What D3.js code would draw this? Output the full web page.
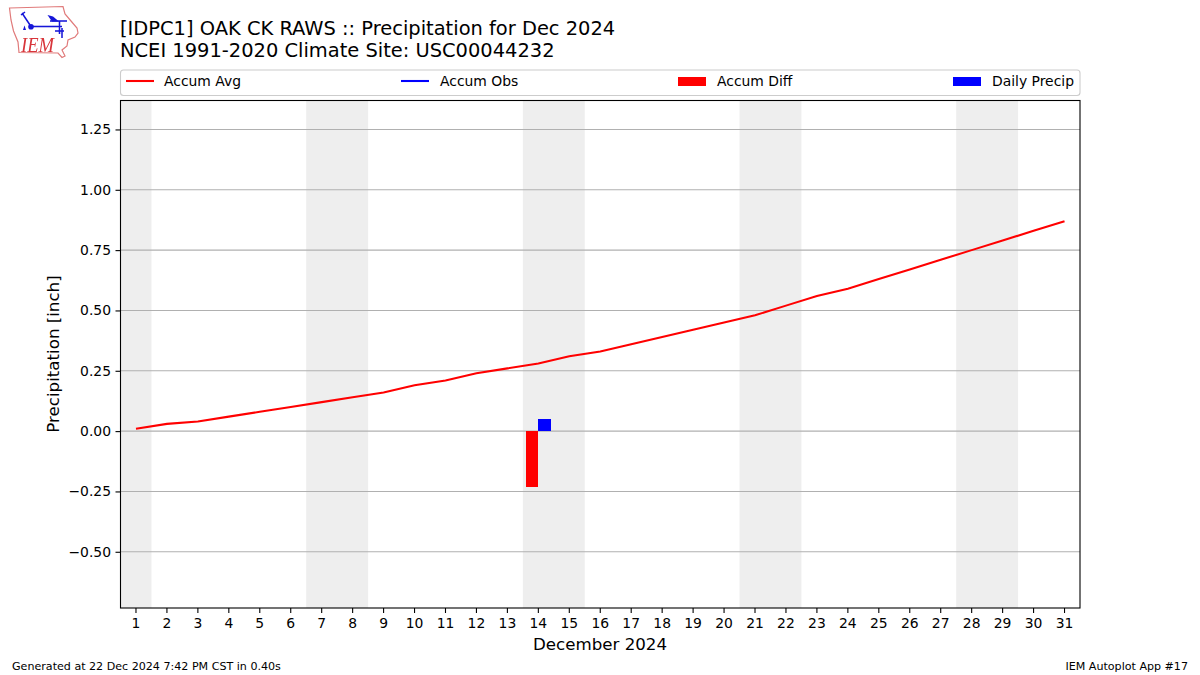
<!DOCTYPE html>
<html>
<head>
<meta charset="utf-8">
<script src="https://cdnjs.cloudflare.com/ajax/libs/d3/7.8.5/d3.min.js"></script>
<style>
  html, body { margin: 0; padding: 0; background: #fff; }
  svg { display: block; }
  text { font-family: "DejaVu Sans", sans-serif; fill: #000; }
</style>
</head>
<body>
<div id="chart"></div>
<script>
// values
var days = d3.range(1, 32);
var accumAvg = [0.01, 0.03, 0.04, 0.06, 0.08, 0.10, 0.12, 0.14, 0.16, 0.19, 0.21,
                0.24, 0.26, 0.28, 0.31, 0.33, 0.36, 0.39, 0.42, 0.45, 0.48, 0.52,
                0.56, 0.59, 0.63, 0.67, 0.71, 0.75, 0.79, 0.83, 0.87];
var obsDays = [14];
var accumObs = [0.05];
var accumDiff = [-0.23];
var dailyPrecip = [0.05];
var weekends = [[0.5, 1.5], [6.5, 8.5], [13.5, 15.5], [20.5, 22.5], [27.5, 29.5]];
var yTicks = [-0.5, -0.25, 0, 0.25, 0.5, 0.75, 1, 1.25];
var legendItems = ["Accum Avg", "Accum Obs", "Accum Diff", "Daily Precip"];
var legendColors = ["#ff0000", "#0000ff", "#ff0000", "#0000ff"];
var legendKinds = ["line", "line", "bar", "bar"];
var legendX = [126, 401, 678, 953];

var width = 1200, height = 675;
var m = { left: 120.5, right: 1080, top: 100.5, bottom: 608 };

var svg = d3.select("#chart").append("svg")
    .attr("width", width)
    .attr("height", height);

var x = d3.scaleLinear().domain([0.5, 31.5]).range([m.left, m.right]);
var y = d3.scaleLinear().domain([-0.733, 1.37]).range([m.bottom, m.top]);

// weekend shading
svg.selectAll(".weekend")
    .data(weekends)
    .enter().append("rect")
    .attr("class", "weekend")
    .attr("x", function(d) { return x(d[0]); })
    .attr("width", function(d) { return x(d[1]) - x(d[0]); })
    .attr("y", m.top)
    .attr("height", m.bottom - m.top)
    .attr("fill", "#eeeeee");

// grid
svg.selectAll(".grid")
    .data(yTicks)
    .enter().append("line")
    .attr("class", "grid")
    .attr("x1", m.left)
    .attr("x2", m.right)
    .attr("y1", function(d) { return y(d); })
    .attr("y2", function(d) { return y(d); })
    .attr("stroke", "#b0b0b0")
    .attr("stroke-width", 1.1);

// bars
var barWidth = x(1.4) - x(1);

svg.selectAll(".diff")
    .data(accumDiff)
    .enter().append("rect")
    .attr("class", "diff")
    .attr("x", function(d, i) { return x(obsDays[i]) - barWidth; })
    .attr("width", barWidth)
    .attr("y", y(0))
    .attr("height", function(d) { return y(d) - y(0); })
    .attr("fill", "#ff0000")
    .attr("shape-rendering", "crispEdges");

svg.selectAll(".daily")
    .data(dailyPrecip)
    .enter().append("rect")
    .attr("class", "daily")
    .attr("x", function(d, i) { return x(obsDays[i]); })
    .attr("width", barWidth)
    .attr("y", function(d) { return y(d); })
    .attr("height", function(d) { return y(0) - y(d); })
    .attr("fill", "#0000ff")
    .attr("shape-rendering", "crispEdges");

// lines
var avgLine = d3.line()
    .x(function(d, i) { return x(days[i]); })
    .y(function(d) { return y(d); });

var obsLine = d3.line()
    .x(function(d, i) { return x(obsDays[i]); })
    .y(function(d) { return y(d); });

svg.append("path")
    .attr("d", obsLine(accumObs))
    .attr("fill", "none")
    .attr("stroke", "#0000ff")
    .attr("stroke-width", 2.08);

svg.append("path")
    .attr("d", avgLine(accumAvg))
    .attr("fill", "none")
    .attr("stroke", "#ff0000")
    .attr("stroke-width", 2.08);

// axes
var xAxis = d3.axisBottom(x).tickValues(days).tickSize(5).tickPadding(5.5).tickFormat(d3.format("d"));
var yAxis = d3.axisLeft(y).tickValues(yTicks).tickSize(5).tickPadding(4.5)
    .tickFormat(function(d) { return d3.format(".2f")(d).replace("-", "\u2212"); });

var gx = svg.append("g").attr("transform", "translate(-0.5," + m.bottom + ")").call(xAxis);
var gy = svg.append("g").attr("transform", "translate(" + m.left + ",0)").call(yAxis);

[gx, gy].forEach(function(g) {
    g.select(".domain").remove();
    g.selectAll("line").attr("stroke", "#000").attr("stroke-width", 1.1);
    g.selectAll("text").style("font-family", "'DejaVu Sans', sans-serif").style("font-size", "13.9px").attr("fill", "#000");
});

svg.append("rect")
    .attr("x", m.left)
    .attr("y", m.top)
    .attr("width", m.right - m.left)
    .attr("height", m.bottom - m.top)
    .attr("fill", "none")
    .attr("stroke", "#000")
    .attr("stroke-width", 1.1);

// axis labels
svg.append("text")
    .attr("x", 600)
    .attr("y", 649.5)
    .attr("text-anchor", "middle")
    .style("font-size", "16.67px")
    .text("December 2024");

svg.append("text")
    .attr("transform", "translate(59,354) rotate(-90)")
    .attr("text-anchor", "middle")
    .style("font-size", "16.67px")
    .text("Precipitation [inch]");

// titles
svg.append("text").attr("x", 120).attr("y", 35).style("font-size", "19.44px")
    .text("[IDPC1] OAK CK RAWS :: Precipitation for Dec 2024");
svg.append("text").attr("x", 120).attr("y", 57).style("font-size", "19.44px")
    .text("NCEI 1991-2020 Climate Site: USC00044232");

// legend
svg.append("rect")
    .attr("x", 120.5)
    .attr("y", 70)
    .attr("width", 959.5)
    .attr("height", 25.5)
    .attr("rx", 3)
    .attr("fill", "#fff")
    .attr("stroke", "#cccccc")
    .attr("stroke-width", 1.1);

var legend = svg.selectAll(".legend-item")
    .data(legendItems)
    .enter().append("g")
    .attr("class", "legend-item")
    .attr("transform", function(d, i) { return "translate(" + legendX[i] + ",81)"; });

legend.filter(function(d) { return legendKinds[legendItems.indexOf(d)] == "line"; })
    .append("line")
    .attr("x1", 0)
    .attr("x2", 28)
    .attr("stroke", function(d) { return legendColors[legendItems.indexOf(d)]; })
    .attr("stroke-width", 2.08);

legend.filter(function(d) { return legendKinds[legendItems.indexOf(d)] == "bar"; })
    .append("rect")
    .attr("y", -4)
    .attr("width", 28)
    .attr("height", 9)
    .attr("fill", function(d) { return legendColors[legendItems.indexOf(d)]; });

legend.append("text")
    .attr("x", function(d) { return legendItems.indexOf(d) == 0 ? 38 : 39; })
    .attr("y", 5)
    .style("font-size", "13.9px")
    .text(function(d) { return d; });

// footer
svg.append("text").attr("x", 12).attr("y", 670).style("font-size", "11.1px")
    .text("Generated at 22 Dec 2024 7:42 PM CST in 0.40s");
svg.append("text").attr("x", 1188).attr("y", 670).attr("text-anchor", "end").style("font-size", "11.1px")
    .text("IEM Autoplot App #17");

// logo, state outline with the station symbol, a little soft like the bitmap
var blur = svg.append("defs").append("filter").attr("id", "soft");
blur.append("feGaussianBlur").attr("stdDeviation", 0.35);

var logo = svg.append("g").attr("filter", "url(#soft)");

logo.append("path")
    .attr("d", "M9.5,8 L63,6.5 L65,14 L71,21 L77,28 L78,33 L75,37 L68,40 L67,46 L62,50 L65,56 L62,57.5 L58,53 L19,52.5 L18,42 L13.5,31 L11,20 Z")
    .attr("fill", "none")
    .attr("stroke", "#e07a7a")
    .attr("stroke-width", 1.2);

logo.append("path")
    .attr("d", "M31,26.5 L62,26.5 M59.5,21 L59.5,34 M22,13 L30,25 M21,15 L25,12 M50,21 L67,21 M55,31 L64,31 M62,28 L62,38")
    .attr("fill", "none")
    .attr("stroke", "#1414d8")
    .attr("stroke-width", 1.5);

logo.append("path")
    .attr("d", "M47.5,15 L53,16.5 L59,21.5 L52,21.5 Z")
    .attr("fill", "#1414d8");

logo.append("circle").attr("cx", 31).attr("cy", 26.7).attr("r", 2.8).attr("fill", "#1414d8");

logo.append("path")
    .attr("d", "M23,30 L24.5,25.5 L26,30 Z")
    .attr("fill", "#1414d8");

logo.append("text")
    .attr("x", 21)
    .attr("y", 52)
    .attr("textLength", 33)
    .attr("lengthAdjust", "spacingAndGlyphs")
    .style("font-family", "'Liberation Serif', serif")
    .style("font-style", "italic")
    .style("font-size", "22px")
    .style("fill", "#d8353a")
    .text("IEM");
</script>
</body>
</html>
